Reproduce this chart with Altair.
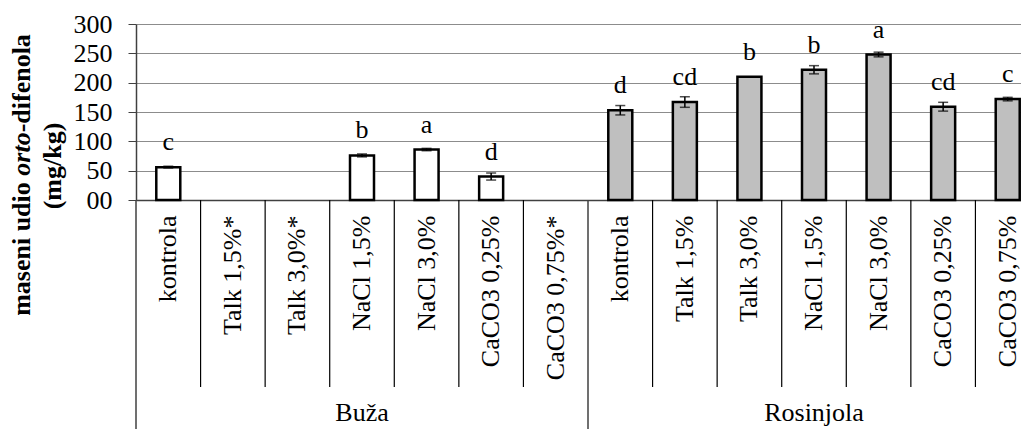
import altair as alt
import pandas as pd

groups = ["Buža", "Rosinjola"]
treat_buza = ["kontrola", "Talk 1,5%*", "Talk 3,0%*", "NaCl 1,5%", "NaCl 3,0%", "CaCO3 0,25%", "CaCO3 0,75%*"]
treat_ros = ["kontrola", "Talk 1,5%", "Talk 3,0%", "NaCl 1,5%", "NaCl 3,0%", "CaCO3 0,25%", "CaCO3 0,75%"]
buza_values = [56, None, None, 76, 86, 40, None]
buza_err = [1.5, None, None, 2.5, 2, 6, None]
buza_letters = ["c", "", "", "b", "a", "d", ""]
ros_values = [153, 167, 210, 222, 248, 159, 172]
ros_err = [8, 9, 0, 7, 4, 7.5, 3]
ros_letters = ["d", "cd", "b", "b", "a", "cd", "c"]
y_ticks = [0, 50, 100, 150, 200, 250, 300]

# y-axis title: line 1 in three pieces (the middle one italic), line 2 plain
title_parts = ["maseni udio ", "orto", "-difenola"]
title_italic = [False, True, False]
title_line2 = "(mg/kg)"

rows = []
for g, treats, vals, errs, lets in [
    ("Buža", treat_buza, buza_values, buza_err, buza_letters),
    ("Rosinjola", treat_ros, ros_values, ros_err, ros_letters),
]:
    for i, (t, v, e, l) in enumerate(zip(treats, vals, errs, lets)):
        rows.append({
            "key": f"{g}|{t}", "group": g, "treat": t, "value": v, "err": e,
            "lo": None if v is None else v - (e or 0),
            "hi": None if v is None else v + (e or 0),
            "letter": l, "first": i == 0, "middle": i == len(treats) // 2,
        })
df = pd.DataFrame(rows)
keys = list(df["key"])
bars = df[df["value"].notna()]
errs = bars[bars["err"] > 0]

W, H = 885, 176
XR = 904  # full band range; last band is partly cut off at the right edge
FONT = "Liberation Serif, Times New Roman, serif"
FS = 26
TFS = 26

# Times/Liberation Serif bold advance widths (1/1000 em) for laying out the title pieces
bold_w = {"m": 833, "a": 500, "s": 389, "e": 444, "n": 556, "i": 278, " ": 250, "u": 556,
          "d": 556, "o": 500, "-": 333, "f": 333, "l": 278, "r": 444, "t": 333}
bold_it_w = {"o": 500, "r": 389, "t": 278}


def text_w(s, table):
    return sum(table[c] for c in s) / 1000 * TFS


widths = [text_w(p, bold_it_w if it else bold_w) for p, it in zip(title_parts, title_italic)]
title_center = 151
start = title_center + sum(widths) / 2
pos = []
for w_ in widths:
    pos.append(start)
    start -= w_
tdf = pd.DataFrame({"text": title_parts, "italic": title_italic, "ypos": pos})

xscale = alt.Scale(domain=keys, range=[0, XR], paddingInner=0, paddingOuter=0)
yscale = alt.Scale(domain=[0, 300])

xaxis = alt.Axis(labelExpr="split(datum.label, '|')[1]", labelAngle=270,
                 labelAlign="right", labelBaseline="middle", labelPadding=15,
                 ticks=False, domainColor="#404040", domainWidth=1.5, grid=False,
                 labelFont=FONT, labelFontSize=FS, labelColor="black", title=None)
yaxis = alt.Axis(values=y_ticks, labelExpr="datum.value == 0 ? '00' : datum.label",
                 tickSize=8, labelPadding=16, tickColor="#404040",
                 domainColor="#404040", domainWidth=1.5, grid=True,
                 gridColor="#8c8c8c", gridWidth=1.2,
                 labelFont=FONT, labelFontSize=FS, labelColor="black", title=None)


def X(**kw):
    return alt.X("key:N", scale=xscale, axis=xaxis, **kw)


def Y(field):
    return alt.Y(field, scale=yscale, axis=yaxis)


bar = alt.Chart(bars).mark_bar(size=24, stroke="black", strokeWidth=2.5).encode(
    x=X(), y=Y("value:Q"),
    color=alt.Color("group:N", scale=alt.Scale(domain=groups, range=["white", "#bfbfbf"]), legend=None),
)

err_rule = alt.Chart(errs).mark_rule(color="black", strokeWidth=1.5).encode(
    x=X(), y=Y("lo:Q"), y2="hi:Q",
)
cap_lo = alt.Chart(errs).mark_tick(color="black", size=10, thickness=1.5, orient="horizontal").encode(
    x=X(), y=Y("lo:Q"),
)
cap_hi = alt.Chart(errs).mark_tick(color="black", size=10, thickness=1.5, orient="horizontal").encode(
    x=X(), y=Y("hi:Q"),
)

letters = alt.Chart(bars).mark_text(font=FONT, fontSize=FS, baseline="alphabetic", dy=-17, color="black").encode(
    x=X(), y=Y("value:Q"), text="letter:N",
)

short_sep = alt.Chart(df[~df["first"]]).mark_rule(color="black", strokeWidth=1.2).encode(
    x=X(bandPosition=0), y=alt.value(H), y2=alt.value(H + 187),
)
long_sep = alt.Chart(df[df["first"]]).mark_rule(color="#404040", strokeWidth=1.5).encode(
    x=X(bandPosition=0), y=alt.value(H), y2=alt.value(H + 240),
)

group_text = alt.Chart(df[df["middle"]]).mark_text(font=FONT, fontSize=FS, baseline="middle", color="black").encode(
    x=X(), y=alt.value(H + 213), text="group:N",
)

title_plain = alt.Chart(tdf[~tdf["italic"]]).mark_text(
    font=FONT, fontSize=TFS, fontWeight="bold", angle=270, align="left", baseline="middle", color="black"
).encode(x=alt.value(-114), y=alt.Y("ypos:Q", scale=None), text="text:N")
title_it = alt.Chart(tdf[tdf["italic"]]).mark_text(
    font=FONT, fontSize=TFS, fontWeight="bold", fontStyle="italic", angle=270, align="left",
    baseline="middle", color="black"
).encode(x=alt.value(-114), y=alt.Y("ypos:Q", scale=None), text="text:N")
title_2 = alt.Chart(pd.DataFrame({"text": [title_line2]})).mark_text(
    font=FONT, fontSize=TFS, fontWeight="bold", angle=270, align="center", baseline="middle", color="black"
).encode(x=alt.value(-83), y=alt.value(title_center - 9), text="text:N")

chart = alt.layer(bar, err_rule, cap_lo, cap_hi, letters, short_sep, long_sep, group_text,
                  title_plain, title_it, title_2).properties(
    width=W, height=H,
    autosize=alt.AutoSizeParams(type="none"),
    padding={"left": 128, "top": 16, "right": 0, "bottom": 229},
).configure_view(stroke=None)

chart.save("out.html", embed_options={"renderer": "svg", "actions": False})
